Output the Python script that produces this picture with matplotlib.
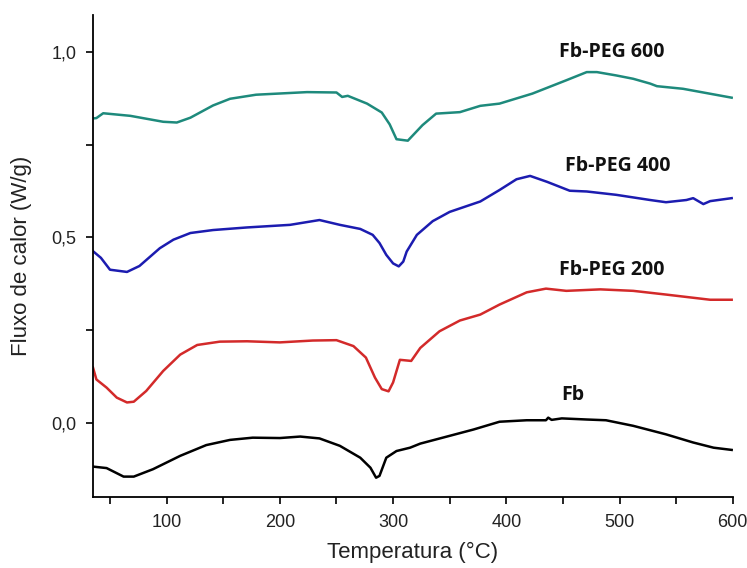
import matplotlib
matplotlib.use("Agg")
import matplotlib.pyplot as plt
from matplotlib.ticker import FixedLocator

# Fb-PEG 600 (teal)
x600 = [35, 38, 44, 68, 97, 109, 121, 141, 156, 179, 224, 250, 255, 260, 277, 290, 297, 303, 313,
        326, 338, 359, 377, 394, 423, 453, 471, 480, 497, 512, 527, 533, 556, 599]
y600 = [0.821, 0.822, 0.835, 0.828, 0.812, 0.81, 0.823, 0.856, 0.874, 0.885, 0.892, 0.891, 0.879,
        0.882, 0.861, 0.837, 0.805, 0.765, 0.761, 0.803, 0.834, 0.838, 0.855, 0.861, 0.888, 0.924,
        0.946, 0.946, 0.937, 0.928, 0.915, 0.908, 0.901, 0.877]

# Fb-PEG 400 (blue)
x400 = [35, 42, 50, 65, 76, 94, 106, 121, 141, 171, 209, 235, 253, 271, 282, 288, 294, 300, 305, 309, 312,
        321, 335, 350, 377, 394, 409, 421, 436, 456, 471, 497, 527, 541, 559, 565, 574, 580, 599]
y400 = [0.463, 0.445, 0.413, 0.407, 0.423, 0.471, 0.494, 0.512, 0.52, 0.527, 0.534, 0.547, 0.534,
        0.523, 0.507, 0.485, 0.453, 0.43, 0.422, 0.435, 0.462, 0.507, 0.544, 0.569, 0.597, 0.628, 0.657, 0.666,
        0.65, 0.626, 0.624, 0.615, 0.601, 0.595, 0.601, 0.606, 0.59, 0.598, 0.606]

# Fb-PEG 200 (red)
x200 = [35, 38, 47, 56, 65, 71, 82, 97, 112, 127, 147, 171, 200, 229, 250, 265, 276, 284,
        290, 296, 300, 306, 316, 324, 341, 359, 377, 394, 418, 435, 453, 483, 512, 541, 580, 599]
y200 = [0.149, 0.117, 0.095, 0.068, 0.055, 0.057, 0.086, 0.14, 0.184, 0.21, 0.219, 0.22,
        0.217, 0.222, 0.223, 0.207, 0.176, 0.122, 0.091, 0.085, 0.109, 0.17, 0.167, 0.202,
        0.247, 0.276, 0.292, 0.319, 0.352, 0.362, 0.356, 0.36, 0.356, 0.346, 0.332, 0.332]

# Fb (black)
xfb = [35, 47, 62, 71, 88, 112, 135, 156, 176, 200, 218, 235, 253, 271, 280, 285, 288, 294,
       303, 315, 324, 350, 371, 394, 418, 435, 437, 440, 449, 471, 488, 512, 541, 565, 583, 599]
yfb = [-0.118, -0.122, -0.145, -0.145, -0.125, -0.089, -0.06, -0.046, -0.04, -0.041, -0.037,
       -0.042, -0.062, -0.094, -0.121, -0.148, -0.143, -0.094, -0.076, -0.067, -0.056, -0.035,
       -0.018, 0.003, 0.007, 0.007, 0.014, 0.008, 0.012, 0.009, 0.007, -0.008, -0.031, -0.053,
       -0.067, -0.073]

series_labels = ["Fb-PEG 600", "Fb-PEG 400", "Fb-PEG 200", "Fb"]
label_x = [493, 498, 493, 459]
label_y = [1.0, 0.694, 0.413, 0.076]
colors = ["#1e8a7c", "#1c1cb0", "#d32a2a", "#000000"]

yticks = [0.0, 0.5, 1.0]
yticklabels = ["0,0", "0,5", "1,0"]
xticks = [100, 200, 300, 400, 500, 600]

fig = plt.figure(figsize=(7.47, 5.68), dpi=100)
ax = fig.add_axes([0.1245, 0.125, 0.8565, 0.8486])

for xs, ys, c in zip([x600, x400, x200, xfb], [y600, y400, y200, yfb], colors):
    ax.plot(xs, ys, color=c, lw=1.8)

for t, lx, ly in zip(series_labels, label_x, label_y):
    ax.text(lx, ly, t, ha="center", va="center", fontsize=14, fontweight="bold",
            family="Open Sans", color="#111111")

ax.set_xlim(35, 600)
ax.set_ylim(-0.2, 1.1)
ax.set_xticks(xticks)
ax.set_xticklabels([str(v) for v in xticks])
ax.xaxis.set_minor_locator(FixedLocator([50, 150, 250, 350, 450, 550]))
ax.set_yticks(yticks)
ax.set_yticklabels(yticklabels)
ax.yaxis.set_minor_locator(FixedLocator([0.25, 0.75]))

for s in ["top", "right"]:
    ax.spines[s].set_visible(False)
for s in ["left", "bottom"]:
    ax.spines[s].set_linewidth(1.3)

ax.tick_params(which="both", direction="out", length=5, width=1.2, labelsize=13,
               pad=7)
for lab in ax.get_xticklabels() + ax.get_yticklabels():
    lab.set_family("Liberation Sans")
    lab.set_color("#222222")

ax.set_xlabel("Temperatura (°C)", fontsize=16, family="Liberation Sans", labelpad=8,
              color="#222222")
ax.set_ylabel("Fluxo de calor (W/g)", fontsize=16, family="Liberation Sans", labelpad=14,
              color="#222222")

fig.savefig("out.png", dpi=100)
